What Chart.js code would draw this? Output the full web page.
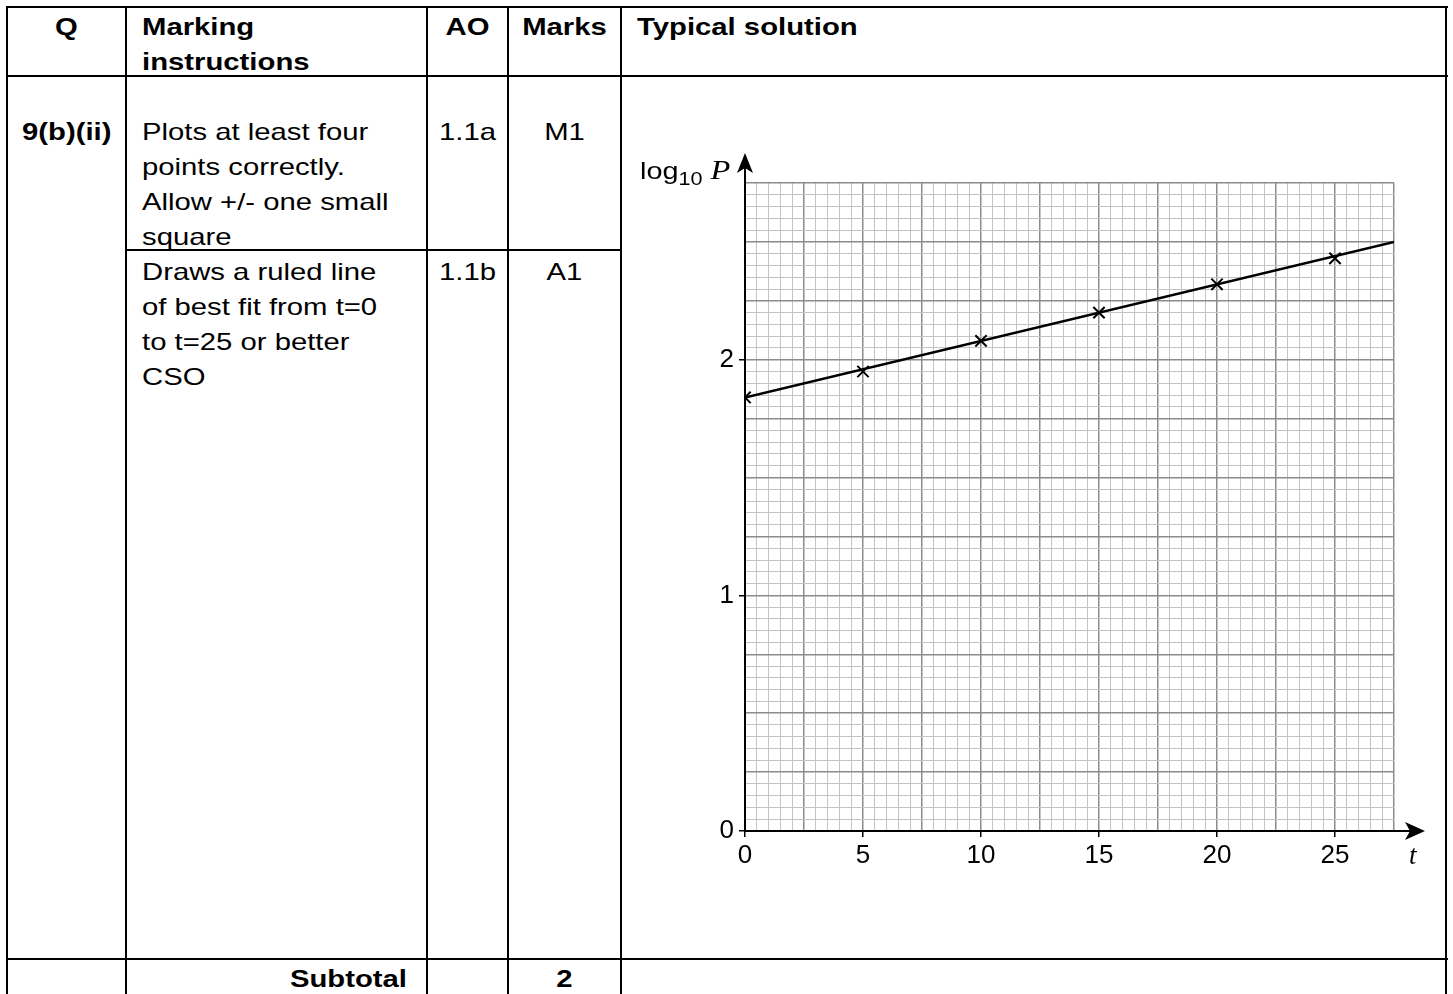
<!DOCTYPE html>
<html>
<head>
<meta charset="utf-8">
<script src="https://cdn.jsdelivr.net/npm/chart.js@4.4.1/dist/chart.umd.min.js"></script>
<style>
  body { margin: 0; background: #fff; font-family: "Liberation Sans", Arial, sans-serif; color: #000; }
  #page { position: relative; width: 1453px; height: 994px; overflow: hidden; }
  .h, .v { position: absolute; background: #000; }
  .h { height: 2px; }
  .v { width: 2px; }
  .t { position: absolute; font-size: 24px; line-height: 35px; white-space: nowrap;
       transform: scaleX(1.22); transform-origin: left top; }
  .b { font-weight: bold; }
  .c { text-align: center; transform-origin: center top; }
  .r { text-align: right; transform-origin: right top; }
  #chartBox { position: absolute; left: 660px; top: 150px; width: 790px; height: 740px; }
  #ylab { position: absolute; left: 640px; top: 155px; font-size: 24px; white-space: nowrap;
          transform: scaleX(1.2); transform-origin: left top; }
  #ylab sub { font-size: 18px; vertical-align: -6px; }
  #ylab i, #xlab { font-family: "Liberation Serif", "Times New Roman", serif; font-style: italic; font-size: 27px; }
  #xlab { position: absolute; left: 1409px; top: 840px; }
</style>
</head>
<body>
<div id="page">
  <!-- table grid -->
  <div class="h" style="left:6px; top:6px; width:1442px;"></div>
  <div class="h" style="left:6px; top:75px; width:1442px;"></div>
  <div class="h" style="left:126px; top:249px; width:496px;"></div>
  <div class="h" style="left:6px; top:958px; width:1442px;"></div>
  <div class="v" style="left:6px; top:6px; height:988px;"></div>
  <div class="v" style="left:125px; top:6px; height:988px;"></div>
  <div class="v" style="left:426px; top:6px; height:988px;"></div>
  <div class="v" style="left:507px; top:6px; height:988px;"></div>
  <div class="v" style="left:620px; top:6px; height:988px;"></div>
  <div class="v" style="left:1445px; top:6px; height:988px;"></div>

  <!-- header -->
  <div class="t b c" style="left:8px; width:117px; top:9px;">Q</div>
  <div class="t b" style="left:142px; top:9px;">Marking<br>instructions</div>
  <div class="t b c" style="left:428px; width:79px; top:9px;">AO</div>
  <div class="t b c" style="left:509px; width:111px; top:9px;">Marks</div>
  <div class="t b" style="left:637px; top:9px;">Typical solution</div>

  <!-- rows -->
  <div class="t b" style="left:22px; top:114px;">9(b)(ii)</div>
  <div class="t" style="left:142px; top:114px;">Plots at least four<br>points correctly.<br>Allow +/- one small<br>square</div>
  <div class="t c" style="left:428px; width:79px; top:114px;">1.1a</div>
  <div class="t c" style="left:509px; width:111px; top:114px;">M1</div>
  <div class="t" style="left:142px; top:254px;">Draws a ruled line<br>of best fit from t=0<br>to t=25 or better<br>CSO</div>
  <div class="t c" style="left:428px; width:79px; top:254px;">1.1b</div>
  <div class="t c" style="left:509px; width:111px; top:254px;">A1</div>
  <div class="t b r" style="left:128px; width:279px; top:961px;">Subtotal</div>
  <div class="t b c" style="left:509px; width:111px; top:961px;">2</div>

  <div id="chartBox"><canvas id="graph"></canvas></div>
  <div id="ylab">log<sub>10</sub> <i>P</i></div>
  <div id="xlab">t</div>
</div>

<script>
// valeurs
const tValues = [0, 5, 10, 15, 20, 25];
const logP = [1.84, 1.95, 2.08, 2.20, 2.32, 2.43];
// droite de meilleur ajustement (extrémités)
const fitT = [0, 27.5];
const fitLogP = [1.84, 2.50];
const xTickLabels = [0, 5, 10, 15, 20, 25];
const yTickLabels = [0, 1, 2];

const near = (v, list) => list.some(l => Math.abs(v - l) < 1e-6);
const isMultiple = (v, step) => Math.abs(v / step - Math.round(v / step)) < 1e-6;

// flèches au bout des axes
const axisArrows = {
    id: 'axisArrows',
    afterDraw(chart) {
        const { ctx, chartArea: a } = chart;
        ctx.save();
        ctx.strokeStyle = '#000';
        ctx.fillStyle = '#000';
        ctx.lineWidth = 2;
        ctx.beginPath();
        ctx.moveTo(a.left, a.bottom);
        ctx.lineTo(a.left, a.top - 20);
        ctx.moveTo(a.left, a.bottom);
        ctx.lineTo(a.right + 20, a.bottom);
        ctx.stroke();
        // pointe verticale
        ctx.beginPath();
        ctx.moveTo(a.left, a.top - 30);
        ctx.lineTo(a.left - 8, a.top - 10);
        ctx.lineTo(a.left, a.top - 15);
        ctx.lineTo(a.left + 8, a.top - 10);
        ctx.closePath();
        ctx.fill();
        // pointe horizontale
        ctx.beginPath();
        ctx.moveTo(a.right + 31, a.bottom);
        ctx.lineTo(a.right + 11, a.bottom - 9);
        ctx.lineTo(a.right + 16, a.bottom);
        ctx.lineTo(a.right + 11, a.bottom + 9);
        ctx.closePath();
        ctx.fill();
        ctx.restore();
    }
};

new Chart(document.getElementById('graph'), {
    type: 'scatter',
    data: {
        datasets: [
            {
                data: fitT.map((t, i) => ({ x: t, y: fitLogP[i] })),
                showLine: true,
                borderColor: '#000',
                borderWidth: 2.5,
                pointRadius: 0
            },
            {
                data: tValues.map((t, i) => ({ x: t, y: logP[i] })),
                pointStyle: 'crossRot',
                pointRadius: 8,
                borderColor: '#000',
                borderWidth: 2
            }
        ]
    },
    options: {
        responsive: true,
        maintainAspectRatio: false,
        animation: false,
        layout: { padding: { top: 33, right: 56, bottom: 19, left: 0 } },
        plugins: { legend: { display: false }, tooltip: { enabled: false } },
        scales: {
            x: {
                type: 'linear',
                min: 0,
                max: 27.5,
                afterFit: s => { s.height = 40; },
                border: { display: false },
                grid: {
                    color: c => isMultiple(c.tick.value, 2.5) ? '#8c8c8c' : '#c4c4c4',
                    lineWidth: c => isMultiple(c.tick.value, 2.5) ? 1.5 : 1,
                    tickColor: c => near(c.tick.value, xTickLabels) ? '#000' : 'rgba(0,0,0,0)',
                    tickLength: 6
                },
                ticks: {
                    stepSize: 0.5,
                    autoSkip: false,
                    maxRotation: 0,
                    padding: 3,
                    color: '#000',
                    font: { family: 'Liberation Sans', size: 26 },
                    callback: v => near(v, xTickLabels) ? String(Math.round(v)) : ''
                }
            },
            y: {
                type: 'linear',
                min: 0,
                max: 2.75,
                afterFit: s => { s.width = 85; },
                border: { display: false },
                grid: {
                    color: c => isMultiple(c.tick.value, 0.25) ? '#8c8c8c' : '#c4c4c4',
                    lineWidth: c => isMultiple(c.tick.value, 0.25) ? 1.5 : 1,
                    tickColor: c => near(c.tick.value, yTickLabels) ? '#000' : 'rgba(0,0,0,0)',
                    tickLength: 6
                },
                ticks: {
                    stepSize: 0.05,
                    autoSkip: false,
                    padding: 5,
                    color: '#000',
                    font: { family: 'Liberation Sans', size: 26 },
                    callback: v => near(v, yTickLabels) ? String(Math.round(v)) : ''
                }
            }
        }
    },
    plugins: [axisArrows]
});
</script>
</body>
</html>
